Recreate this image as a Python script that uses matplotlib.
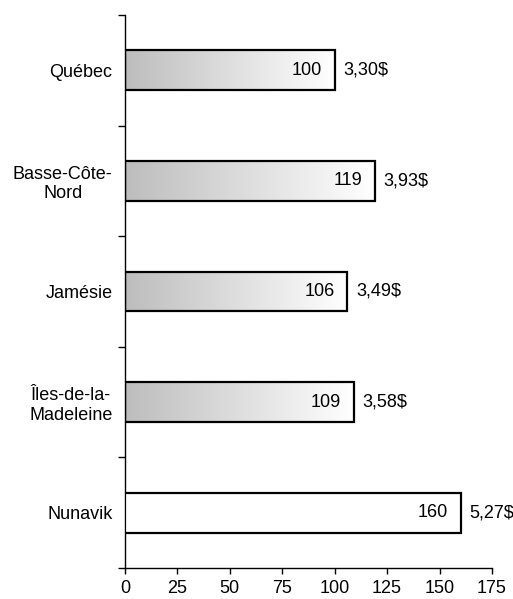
import numpy as np
import matplotlib
matplotlib.use("Agg")
import matplotlib.pyplot as plt
from matplotlib.colors import LinearSegmentedColormap

# data
regions = ["Québec", "Basse-Côte-\nNord", "Jamésie", "Îles-de-la-\nMadeleine", "Nunavik"]
indices = [100, 119, 106, 109, 160]
prices = [3.30, 3.93, 3.49, 3.58, 5.27]
gradient_fill = [True, True, True, True, False]

plt.rcParams['font.family'] = ['Liberation Sans', 'DejaVu Sans']
plt.rcParams['font.size'] = 13

fig = plt.figure(figsize=(5.13, 5.99), dpi=100)
ax = fig.add_axes([0.2437, 0.0518, 0.959 - 0.2437, 0.975 - 0.0518])

ypos = np.arange(len(regions))
bars = ax.barh(ypos, indices, height=0.36, facecolor="white",
               edgecolor="black", linewidth=1.6, zorder=3)

# grey-to-white gradient inside the bars
cmap = LinearSegmentedColormap.from_list("gw", ["#bdbdbd", "#ffffff"])
grad = np.linspace(0, 1, 256).reshape(1, -1)
for bar, use_grad in zip(bars, gradient_fill):
    if not use_grad:
        continue
    x0, y0 = bar.get_x(), bar.get_y()
    w, h = bar.get_width(), bar.get_height()
    im = ax.imshow(grad, cmap=cmap, aspect="auto", extent=(x0, x0 + w, y0 + h, y0),
                   zorder=2.5, interpolation="bicubic")
    im.set_clip_path(bar)
    bar.set_facecolor("none")

for y, v, p in zip(ypos, indices, prices):
    ax.annotate(str(v), (v, y), xytext=(-9, 0), textcoords="offset points",
                ha="right", va="center", zorder=4)
    ax.annotate(f"{p:.2f}".replace(".", ",") + "$", (v, y), xytext=(6.5, 0),
                textcoords="offset points", ha="left", va="center")

ax.set_xlim(0, 175)
ax.set_ylim(len(regions) - 0.5, -0.5)
ax.set_xticks(np.arange(0, 176, 25))
ax.set_yticks(ypos)
ax.set_yticklabels(regions, ha="right", multialignment="center")
ax.tick_params(axis="y", which="major", length=0, pad=9)
ax.set_yticks(np.arange(-0.5, len(regions), 1), minor=True)
ax.tick_params(axis="y", which="minor", length=5, width=1, direction="out")
ax.tick_params(axis="x", length=4, width=1, direction="out", pad=5)

for s in ["top", "right"]:
    ax.spines[s].set_visible(False)
for s in ["left", "bottom"]:
    ax.spines[s].set_linewidth(1)

fig.savefig("out.png", dpi=100)
